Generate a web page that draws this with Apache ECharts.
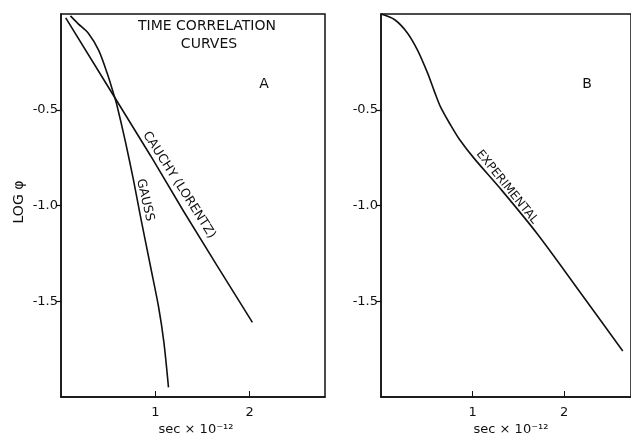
<!DOCTYPE html>
<html>
<head>
<meta charset="utf-8">
<script src="https://cdn.jsdelivr.net/npm/echarts@6/dist/echarts.min.js"></script>
<style>
  html, body { margin: 0; padding: 0; background: #fff; }
  #chart { width: 631px; height: 438px; }
</style>
</head>
<body>
<div id="chart"></div>
<script>
// Panel A: model correlation functions (time in 1e-12 s, log10 of phi)
const gaussTime = [0.10, 0.18, 0.29, 0.40, 0.49, 0.56, 0.59, 0.68, 0.77, 0.84, 0.95, 1.035, 1.09, 1.14];
const gaussLog  = [-0.01, -0.05, -0.10, -0.19, -0.31, -0.42, -0.47, -0.66, -0.87, -1.05, -1.32, -1.53, -1.71, -1.95];

const cauchyTime = [0.05, 0.50, 0.95, 1.30, 1.65, 2.03];
const cauchyLog  = [-0.02, -0.38, -0.74, -1.03, -1.31, -1.61];

// Panel B: measured correlation function
const expTime = [0.00, 0.15, 0.29, 0.40, 0.51, 0.58, 0.65, 0.76, 0.85, 1.01, 1.30, 1.71, 2.20, 2.64];
const expLog  = [0.00, -0.03, -0.10, -0.19, -0.31, -0.40, -0.485, -0.58, -0.65, -0.75, -0.91, -1.15, -1.47, -1.76];

// Axis ticks
const yTicks = [-1.5, -1.0, -0.5];
const xTicks = [1, 2];

const INK = '#111';
const FONT = 'DejaVu Sans';

const pairs = (xs, ys) => xs.map((x, i) => [x, ys[i]]);

function xAxisFor(gridIndex, max) {
  return {
    type: 'value', gridIndex, min: 0, max, interval: 1,
    axisLine: { show: true, onZero: false, lineStyle: { color: INK, width: 1.5 } },
    axisTick: { show: true, inside: true, length: 6, customValues: xTicks, lineStyle: { color: INK, width: 1 } },
    axisLabel: { show: true, customValues: xTicks, color: INK, fontFamily: FONT, fontSize: 13, margin: 9,
                 formatter: v => String(v) },
    splitLine: { show: false }
  };
}

function yAxisFor(gridIndex) {
  return {
    type: 'value', gridIndex, min: -2, max: 0, interval: 0.5,
    axisLine: { show: true, onZero: false, lineStyle: { color: INK, width: 1.5 } },
    axisTick: { show: true, inside: false, length: 5, customValues: yTicks, lineStyle: { color: INK, width: 1.2 } },
    axisLabel: { show: true, customValues: yTicks, color: INK, fontFamily: FONT, fontSize: 13, margin: 3,
                 formatter: v => v.toFixed(1) },
    splitLine: { show: false }
  };
}

function lineSeries(name, xi, yi, data, smooth) {
  return {
    name, type: 'line', xAxisIndex: xi, yAxisIndex: yi, data,
    showSymbol: false, smooth,
    lineStyle: { color: INK, width: 1.6 }, silent: true, animation: false
  };
}

function label(text, x, y, deg, size) {
  return {
    type: 'text', x, y, rotation: deg * Math.PI / 180,
    style: { text, fill: INK, font: `${size}px "${FONT}"`, align: 'center', verticalAlign: 'middle' }
  };
}

const chart = echarts.init(document.getElementById('chart'), null, { renderer: 'canvas' });
chart.setOption({
  backgroundColor: '#fff',
  animation: false,
  grid: [
    { left: 61, top: 14, width: 264, height: 383, show: true, borderColor: INK, borderWidth: 1.5, containLabel: false },
    { left: 381, top: 14, width: 254, height: 383, show: true, borderColor: INK, borderWidth: 1.5, containLabel: false }
  ],
  xAxis: [xAxisFor(0, 2.8), xAxisFor(1, 2.73)],
  yAxis: [yAxisFor(0), yAxisFor(1)],
  series: [
    lineSeries('Gauss', 0, 0, pairs(gaussTime, gaussLog), 0.3),
    lineSeries('Cauchy (Lorentz)', 0, 0, pairs(cauchyTime, cauchyLog), false),
    lineSeries('Experimental', 1, 1, pairs(expTime, expLog), 0.3)
  ],
  graphic: [
    label('TIME CORRELATION', 207, 26, 0, 14),
    label('CURVES', 209, 44, 0, 14),
    label('A', 264, 84, 0, 14),
    label('B', 587, 84, 0, 14),
    label('LOG φ', 19, 202, 90, 14),
    label('CAUCHY (LORENTZ)', 179, 185, -57.3, 12.5),
    label('GAUSS', 145, 200, -77, 12.5),
    label('EXPERIMENTAL', 507, 187, -51, 12),
    label('sec × 10⁻¹²', 196, 430, 0, 13),
    label('sec × 10⁻¹²', 511, 430, 0, 13)
  ]
});
</script>
</body>
</html>
